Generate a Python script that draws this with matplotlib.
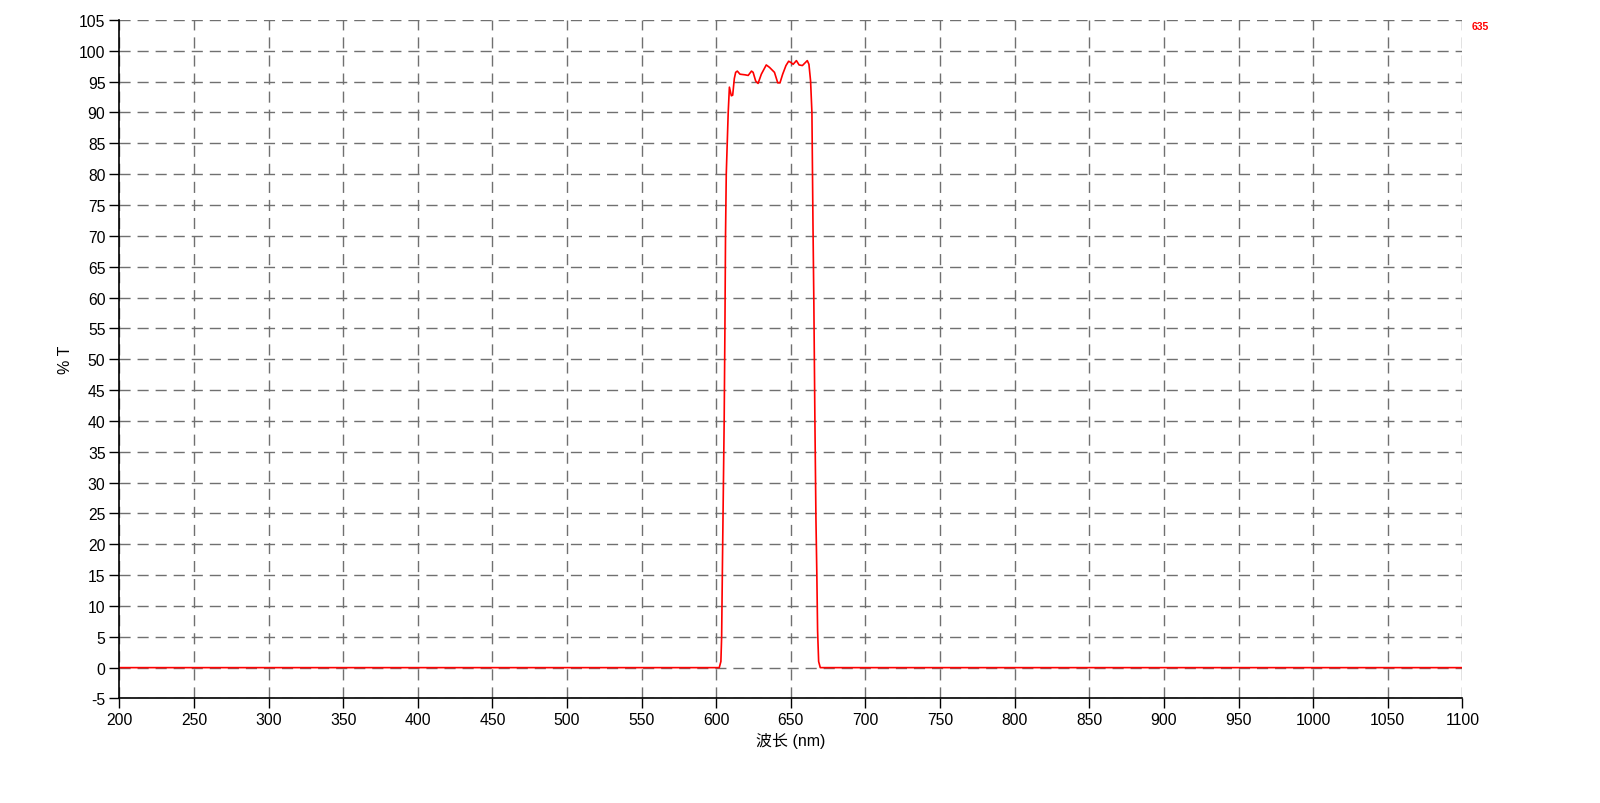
import numpy as np
import matplotlib.pyplot as plt

plt.rcParams['font.family'] = ['Liberation Sans', 'Noto Sans CJK SC', 'DejaVu Sans']
plt.rcParams['axes.unicode_minus'] = False

# wavelength (nm) and transmission (%T)
wavelength = [200, 400, 600, 602.0, 603.1, 603.6, 604.2, 605.3, 605.8, 606.2, 606.7,
              608.0, 608.8, 610.1, 611.0, 612.1, 613.0, 614.1, 615.9, 619.2, 621.4,
              623.6, 624.7, 626.4, 628.0, 630.2, 633.5, 635.7, 639.0, 641.2, 642.7,
              644.5, 646.7, 648.5, 650.0, 651.5, 653.7, 655.5, 657.7, 661.0, 662.1,
              663.2, 664.1, 664.8, 665.4, 666.1, 666.8, 667.4, 667.9, 668.6, 669.7,
              700, 900, 1100]
transmission = [0, 0, 0, 0, 1, 5, 18, 40, 55, 70, 80,
                90, 94.1, 92.7, 92.8, 95.5, 96.5, 96.7, 96.2, 96.1, 96.0,
                96.7, 96.5, 95.1, 94.7, 96.2, 97.7, 97.3, 96.5, 94.8, 94.8,
                96.2, 97.6, 98.3, 98.1, 97.8, 98.4, 97.7, 97.6, 98.4, 97.8,
                95.1, 90, 72, 59, 40, 24, 15, 6, 1, 0,
                0, 0, 0]

x_ticks = np.arange(200, 1101, 50)
y_ticks = np.arange(-5, 106, 5)

fig = plt.figure(figsize=(16, 8.04), dpi=100)
ax = fig.add_axes([0.0746, 0.130, 0.8394, 0.844])

ax.plot(wavelength, transmission, color='#ff0000', linewidth=1.2)

ax.set_xlim(200, 1100)
ax.set_ylim(-5, 105)
ax.set_xticks(x_ticks)
ax.set_yticks(y_ticks)
ax.tick_params(axis='both', direction='out', length=7, width=1, pad=3,
               labelsize=11.3, colors='black')

ax.grid(True, color='#707070', linestyle=(0, (8, 5)), linewidth=1)
for side in ['top', 'right']:
    ax.spines[side].set_visible(False)
for side in ['left', 'bottom']:
    ax.spines[side].set_linewidth(1.2)

ax.set_xlabel('波长 (nm)', fontsize=11.5, labelpad=3)
ax.set_ylabel('% T', fontsize=11.5, labelpad=4)

fig.text(1480 / 1600, 1 - 27 / 804, '635', color='#ff0000', fontsize=7.5,
         fontweight='bold', ha='center', va='center')

fig.savefig('out.png', dpi=100)
